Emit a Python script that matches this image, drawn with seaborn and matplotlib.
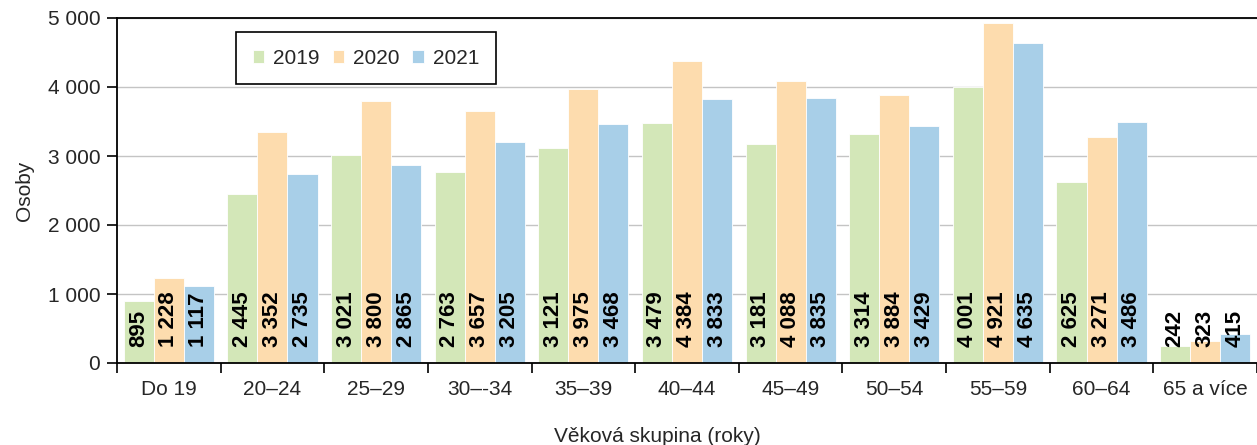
import pandas as pd
import seaborn as sns
from matplotlib import pyplot as plt
from matplotlib.ticker import FuncFormatter

sns.set_theme(style="white")
plt.rcParams['font.family'] = ['Liberation Sans', 'DejaVu Sans']

# data
groups = ["Do 19", "20–24", "25–29", "30–-34", "35–39", "40–44",
          "45–49", "50–54", "55–59", "60–64", "65 a více"]
years = ["2019", "2020", "2021"]
v2019 = [895, 2445, 3021, 2763, 3121, 3479, 3181, 3314, 4001, 2625, 242]
v2020 = [1228, 3352, 3800, 3657, 3975, 4384, 4088, 3884, 4921, 3271, 323]
v2021 = [1117, 2735, 2865, 3205, 3468, 3833, 3835, 3429, 4635, 3486, 415]
colors = ["#d3e7b8", "#fddcae", "#a8cfe8"]

df = pd.DataFrame({
    "group": groups * 3,
    "year": [y for y in years for _ in groups],
    "value": v2019 + v2020 + v2021,
})

FS = 15


def fmt(v):
    return f"{int(v):,}".replace(",", " ")


fig = plt.figure(figsize=(12.57, 4.45), dpi=100)
ax = fig.add_axes([117 / 1257, 1 - 363 / 445, 1 - 117 / 1257, 345 / 445])

sns.barplot(data=df, x="group", y="value", hue="year", palette=colors,
            width=0.87, gap=0, saturation=1, ax=ax, legend=True,
            edgecolor="white", linewidth=0.6)

# bold rotated value labels at the base of each bar
for cont in ax.containers:
    for bar in cont:
        cx = bar.get_x() + bar.get_width() / 2
        ax.text(cx, 225, fmt(bar.get_height()), rotation=90, ha="center",
                va="bottom", fontsize=16, fontweight="bold", color="black")

ax.set_ylim(0, 5000)
ax.set_xlim(-0.5, 10.45)
ax.set_yticks(range(0, 5001, 1000))
ax.yaxis.set_major_formatter(FuncFormatter(lambda v, p: fmt(v)))
ax.yaxis.grid(True, color="#c4c4c4", linewidth=1)
ax.set_axisbelow(True)

# category ticks sit between groups
ax.set_xticks(range(len(groups)))
ax.set_xticklabels(groups)
ax.set_xticks([i - 0.5 for i in range(len(groups) + 1)], minor=True)
ax.tick_params(axis="x", which="major", length=0, pad=12, labelsize=FS)
ax.tick_params(axis="x", which="minor", length=7, width=1.2, color="black",
               direction="out", bottom=True)
ax.tick_params(axis="y", length=7, width=1.2, color="black", direction="out",
               left=True, labelsize=FS, pad=5)

ax.spines["right"].set_visible(False)
for s in ["left", "bottom", "top"]:
    ax.spines[s].set_color("black")
    ax.spines[s].set_linewidth(1.3)

ax.set_xlabel("")
ax.set_ylabel("Osoby", fontsize=FS, labelpad=10)
fig.text(657 / 1257, 1 - 437 / 445, "Věková skupina (roky)", ha="center",
         va="center", fontsize=FS)

handles, labels = ax.get_legend_handles_labels()
ax.legend(handles, labels, loc="upper left", ncol=3,
          bbox_to_anchor=(236 / 1257, 1 - 32 / 445),
          bbox_transform=fig.transFigure, borderaxespad=0, fontsize=FS,
          frameon=True, fancybox=False, edgecolor="black", framealpha=1,
          handlelength=0.55, handleheight=0.55, handletextpad=0.45,
          columnspacing=0.6, borderpad=0.8)
ax.get_legend().get_frame().set_linewidth(1.2)

fig.savefig("out.png", dpi=100)
